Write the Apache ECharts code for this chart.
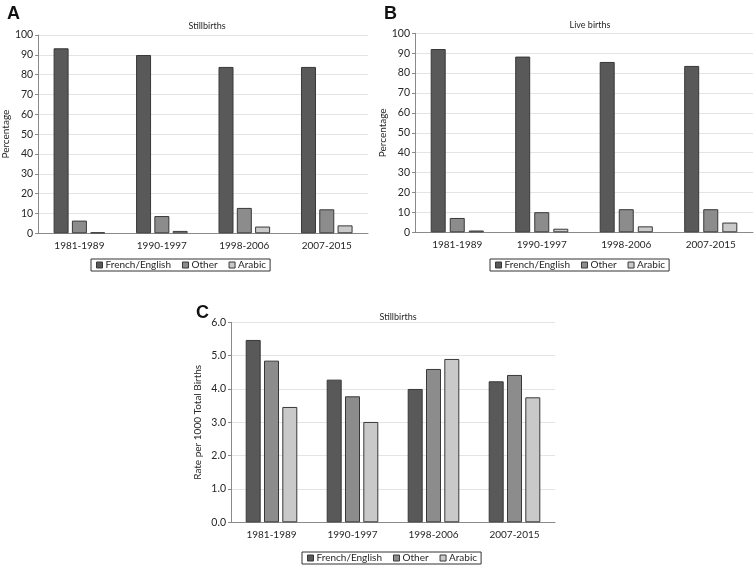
<!DOCTYPE html>
<html><head><meta charset="utf-8">
<script src="https://cdn.jsdelivr.net/npm/echarts@6/dist/echarts.min.js"></script>
<style>html,body{margin:0;padding:0;background:#fff}#c{width:754px;height:565px}</style>
</head><body><div id="c"></div>
<script>
const categories = ['1981-1989', '1990-1997', '1998-2006', '2007-2015'];
const seriesNames = ['French/English', 'Other', 'Arabic'];
// Panel A: Stillbirths, percentage
const aFrenchEnglish = [93.3, 89.9, 83.9, 83.9];
const aOther = [6.4, 8.7, 12.8, 12.1];
const aArabic = [0.5, 1.2, 3.4, 4.0];
// Panel B: Live births, percentage
const bFrenchEnglish = [92.1, 88.3, 85.6, 83.6];
const bOther = [7.2, 10.1, 11.6, 11.6];
const bArabic = [0.9, 1.8, 3.0, 4.9];
// Panel C: Stillbirth rate per 1000 total births
const cFrenchEnglish = [5.47, 4.28, 4.00, 4.23];
const cOther = [4.85, 3.78, 4.60, 4.42];
const cArabic = [3.46, 3.01, 4.90, 3.75];
const pctTicks = [0, 10, 20, 30, 40, 50, 60, 70, 80, 90, 100];
const rateTicks = [0, 1, 2, 3, 4, 5, 6];

const colors = ['#595959', '#8c8c8c', '#c9c9c9'];
const FONT = 'Lato';
const txt = '#262626';

const chart = echarts.init(document.getElementById('c'), null, {renderer: 'canvas'});

function xAxis(i) {
  return {
    type: 'category', gridIndex: i, data: categories,
    axisLine: {lineStyle: {color: '#8a8a8a', width: 1}},
    axisTick: {show: false},
    axisLabel: {color: txt, fontFamily: FONT, fontSize: 10, margin: 7}
  };
}
function yAxis(i, ticks, name, gap, fmt) {
  return {
    type: 'value', gridIndex: i, min: ticks[0], max: ticks[ticks.length - 1],
    interval: ticks[1] - ticks[0],
    name: name, nameLocation: 'middle', nameGap: gap, nameRotate: 90,
    nameTextStyle: {color: txt, fontFamily: FONT, fontSize: 10},
    axisLine: {show: true, lineStyle: {color: '#8a8a8a', width: 1}},
    axisTick: {show: true, length: 3, lineStyle: {color: '#8a8a8a'}},
    axisLabel: {color: txt, fontFamily: FONT, fontSize: 10.5, margin: 5, formatter: fmt},
    splitLine: {lineStyle: {color: '#e4e4e4', width: 1}}
  };
}
function bars(i, data, gap) {
  return data.map((d, k) => ({
    name: seriesNames[k], type: 'bar', xAxisIndex: i, yAxisIndex: i,
    data: d, barWidth: 15, barGap: gap,
    itemStyle: {color: colors[k], borderColor: '#383838', borderWidth: 1},
    emphasis: {disabled: true}, animation: false
  }));
}
function legend(left, top) {
  return {
    left: left, top: top, orient: 'horizontal',
    data: seriesNames.map((n, k) => ({name: n, itemStyle: {color: colors[k], borderColor: '#383838', borderWidth: 1}})),
    icon: 'rect', itemWidth: 6, itemHeight: 6, itemGap: 11,
    borderColor: '#333', borderWidth: 1, padding: [1, 4, 1, 5], borderRadius: 0,
    textStyle: {color: txt, fontFamily: FONT, fontSize: 10, padding: [0, 0, 0, -2]},
    selectedMode: false
  };
}

const option = {
  backgroundColor: '#fff',
  animation: false,
  title: [
    {text: 'A', left: 2, top: 0, textStyle: {fontFamily: 'Liberation Sans', fontWeight: 'bold', fontSize: 18, color: '#111'}},
    {text: 'B', left: 379, top: 0, textStyle: {fontFamily: 'Liberation Sans', fontWeight: 'bold', fontSize: 18, color: '#111'}},
    {text: 'C', left: 191, top: 299, textStyle: {fontFamily: 'Liberation Sans', fontWeight: 'bold', fontSize: 18, color: '#111'}},
    {text: 'Stillbirths', left: 202, top: 17, textAlign: 'center', textStyle: {fontFamily: FONT, fontWeight: 'normal', fontSize: 9, color: txt}},
    {text: 'Live births', left: 585, top: 16, textAlign: 'center', textStyle: {fontFamily: FONT, fontWeight: 'normal', fontSize: 9, color: txt}},
    {text: 'Stillbirths', left: 393, top: 308, textAlign: 'center', textStyle: {fontFamily: FONT, fontWeight: 'normal', fontSize: 9, color: txt}}
  ],
  grid: [
    {left: 36, right: 386, top: 35, bottom: 331.7},
    {left: 415, right: 1, top: 33.3, bottom: 332.7},
    {left: 231, right: 199, top: 322.3, bottom: 42.7}
  ],
  xAxis: [xAxis(0), xAxis(1), xAxis(2)],
  yAxis: [
    yAxis(0, pctTicks, 'Percentage', 24),
    yAxis(1, pctTicks, 'Percentage', 24),
    yAxis(2, rateTicks, 'Rate per 1000 Total Births', 28, v => v.toFixed(1))
  ],
  legend: [legend(91, 259), legend(490, 259), legend(302, 552)],
  series: [
    ...bars(0, [aFrenchEnglish, aOther, aArabic], '22%'),
    ...bars(1, [bFrenchEnglish, bOther, bArabic], '27%'),
    ...bars(2, [cFrenchEnglish, cOther, cArabic], '22%')
  ]
};
chart.setOption(option);
</script></body></html>
